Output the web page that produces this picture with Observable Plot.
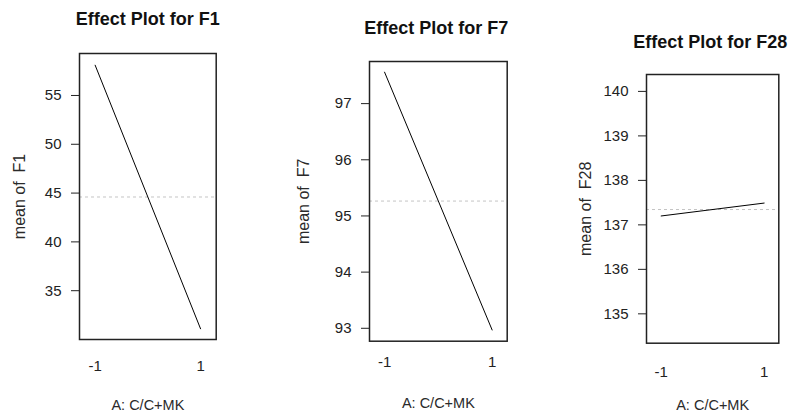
<!DOCTYPE html>
<html>
<head>
<meta charset="utf-8">
<script src="https://cdn.jsdelivr.net/npm/d3@7"></script>
<script src="https://cdn.jsdelivr.net/npm/@observablehq/plot@0.6"></script>
<style>
  html, body { margin: 0; padding: 0; background: white; }
  #wrap { display: flex; flex-direction: row; width: 788px; height: 413px; overflow: hidden; }
  #wrap svg { display: block; flex: none; }
</style>
</head>
<body>
<div id="wrap"></div>
<script>
// ---- data ----
const levels = [-1, 1];
const xTickLabels = ["-1", "1"];
const xLabel = "A: C/C+MK";

const f1Means = [58.1, 31.1];
const f7Means = [97.56, 92.97];
const f28Means = [137.2, 137.49];

const f1Ticks = [35, 40, 45, 50, 55];
const f7Ticks = [93, 94, 95, 96, 97];
const f28Ticks = [135, 136, 137, 138, 139, 140];

const titles = ["Effect Plot for F1", "Effect Plot for F7", "Effect Plot for F28"];
const yLabels = ["mean of \u00a0F1", "mean of \u00a0F7", "mean of \u00a0F28"];

// ---- panel layout (options only) ----
const panels = [
  {means: f1Means, ticks: f1Ticks, ydomain: [30.0, 59.3], xhalf: 1.297,
   width: 260, ml: 79, mr: 44.3, mt: 53, mb: 74, xPad: 21, titleDx: 0, titleDy: -34.5, ylabDx: -60, xlabDy: 66},
  {means: f7Means, ticks: f7Ticks, ydomain: [92.77, 97.75], xhalf: 1.28,
   width: 260, ml: 109, mr: 13.3, mt: 61, mb: 72.3, xPad: 15, titleDx: -2, titleDy: -33.5, ylabDx: -65.5, xlabDy: 62.5},
  {means: f28Means, ticks: f28Ticks, ydomain: [134.34, 140.38], xhalf: 1.285,
   width: 268, ml: 126, mr: 9.7, mt: 74, mb: 70.3, xPad: 23, titleDx: -2.5, titleDy: -32, ylabDx: -61, xlabDy: 62.5}
];

const wrap = document.getElementById("wrap");
panels.forEach((p, i) => {
  const data = levels.map((lv, j) => ({level: lv, mean: p.means[j]}));
  const grand = d3.mean(p.means);
  const chart = Plot.plot({
    width: p.width,
    height: 413,
    marginLeft: p.ml,
    marginRight: p.mr,
    marginTop: p.mt,
    marginBottom: p.mb,
    style: {fontFamily: "'Liberation Sans', Arial, sans-serif", fontSize: "15px", color: "#222", background: "white", overflow: "visible"},
    x: {domain: [-p.xhalf, p.xhalf]},
    y: {domain: p.ydomain},
    marks: [
      Plot.ruleY([grand], {stroke: "#c4c4c4", strokeDasharray: "3,3", strokeWidth: 1}),
      Plot.line(data, {x: "level", y: "mean", stroke: "#000", strokeWidth: 1}),
      Plot.frame({stroke: "#222", strokeWidth: 1.5}),
      Plot.axisY({ticks: p.ticks, tickSize: 8, tickPadding: 10, label: null, tickFormat: d => String(d), fontSize: 15}),
      Plot.axisX({ticks: levels, tickSize: 0, tickPadding: p.xPad, label: null,
                  tickFormat: d => xTickLabels[levels.indexOf(d)], fontSize: 15}),
      Plot.text([titles[i]], {text: d => d, frameAnchor: "top", textAnchor: "middle", lineAnchor: "middle",
                              dx: p.titleDx, dy: p.titleDy, fontWeight: "bold", fontSize: 18, fill: "#111"}),
      Plot.text([yLabels[i]], {text: d => d, frameAnchor: "left", textAnchor: "middle", lineAnchor: "middle",
                               dx: p.ylabDx, rotate: -90, fontSize: 16, fill: "#2a2a2a"}),
      Plot.text([xLabel], {text: d => d, frameAnchor: "bottom", textAnchor: "middle", lineAnchor: "middle",
                           dy: p.xlabDy, fontSize: 14.5, fill: "#2a2a2a"})
    ]
  });
  wrap.appendChild(chart);
});
</script>
</body>
</html>
